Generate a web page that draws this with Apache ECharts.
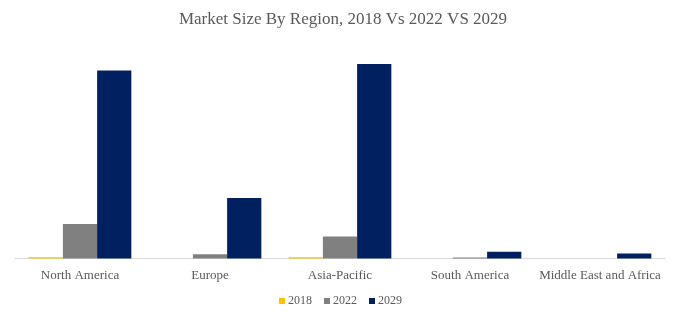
<!DOCTYPE html>
<html>
<head>
<meta charset="utf-8">
<script src="https://cdn.jsdelivr.net/npm/echarts@6/dist/echarts.min.js"></script>
<style>
  html, body { margin: 0; padding: 0; background: #ffffff; }
  #chart { width: 681px; height: 322px; }
</style>
</head>
<body>
<div id="chart"></div>
<script>
// Regional market size, by year
const regions = ['North America', 'Europe', 'Asia-Pacific', 'South America', 'Middle East and Africa'];
const years = ['2018', '2022', '2029'];
const values2018 = [0.12, 0, 0.12, 0, 0];
const values2022 = [3.45, 0.43, 2.2, 0.1, 0];
const values2029 = [18.8, 6.05, 19.45, 0.67, 0.5];
const colors = ['#FFC000', '#808080', '#002060'];

const serif = '"Liberation Serif", "DejaVu Serif", serif';
const textColor = '#595959';

const seriesData = [values2018, values2022, values2029];

const chart = echarts.init(document.getElementById('chart'), null, { renderer: 'canvas' });
chart.setOption({
  backgroundColor: '#ffffff',
  animation: false,
  title: {
    text: 'Market Size By Region, 2018 Vs 2022 VS 2029',
    left: 343,
    textAlign: 'center',
    top: 11,
    padding: 0,
    textStyle: { fontFamily: serif, fontSize: 17, fontWeight: 'normal', color: textColor }
  },
  legend: {
    data: years,
    top: 295,
    left: 'center',
    padding: 0,
    itemWidth: 6,
    itemHeight: 6,
    itemGap: 12,
    icon: 'rect',
    textStyle: { fontFamily: serif, fontSize: 12, color: textColor, padding: [0, 0, 0, -2] }
  },
  grid: { left: 15, right: 16, top: 38.5, bottom: 63.5, containLabel: false },
  xAxis: {
    type: 'category',
    data: regions,
    axisLine: { lineStyle: { color: '#d9d9d9', width: 1 } },
    axisTick: { show: false },
    axisLabel: { fontFamily: serif, fontSize: 13, color: textColor, margin: 11, interval: 0 }
  },
  yAxis: {
    type: 'value',
    min: 0,
    max: 22,
    show: false,
    splitLine: { show: false }
  },
  series: years.map((y, i) => ({
    name: y,
    type: 'bar',
    data: seriesData[i],
    barGap: '0%',
    barCategoryGap: '21%',
    itemStyle: { color: colors[i] }
  }))
});
</script>
</body>
</html>
